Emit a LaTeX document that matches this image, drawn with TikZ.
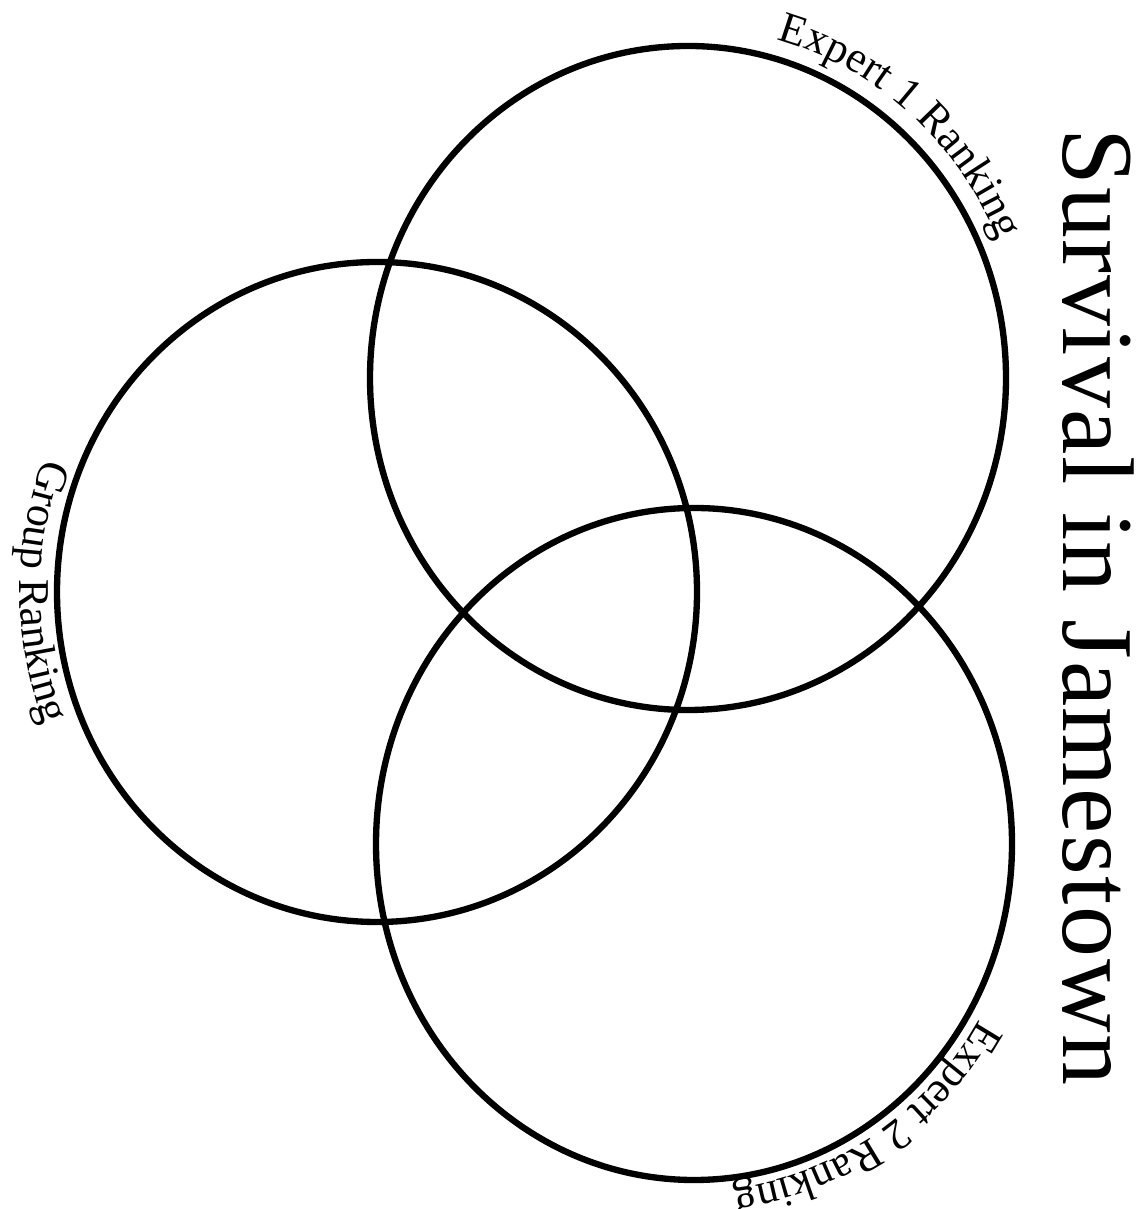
\documentclass[tikz,border=0pt]{standalone}
\usepackage{fontspec}
\setmainfont{Liberation Serif}
\newfontfamily\titlefamily[LetterSpace=1.5]{Liberation Serif}
\usetikzlibrary{decorations.text}

\newcommand{\rankfont}{\fontsize{12.5}{15}\selectfont}
\newcommand{\titlefont}{\titlefamily\fontsize{29}{34}\selectfont}

\tikzset{
  venn/.style={line width=1.8pt},
  ranklabel/.style={decorate, decoration={text along path, text align=center, text={|\rankfont|#1}}},
}

\begin{document}
\begin{tikzpicture}
  \useasboundingbox (0,0) rectangle (11.38,12.09);

  % circle centres
  \coordinate (expone) at (6.88,8.31);
  \coordinate (group) at (3.77,6.17);
  \coordinate (exptwo) at (6.94,3.65);

  % the three rings
  \draw[venn] (expone) ellipse (3.18cm and 3.32cm);
  \draw[venn] (group) ellipse (3.20cm and 3.30cm);
  \draw[venn] (exptwo) ellipse (3.18cm and 3.36cm);

  % labels round the rings
  \path[ranklabel={Expert 1 Ranking}] (expone) ++(84:3.37cm and 3.51cm)
    arc[start angle=84, end angle=14, x radius=3.37cm, y radius=3.51cm];
  \path[ranklabel={Group Ranking}] (group) ++(140:3.57cm and 3.67cm)
    arc[start angle=140, end angle=220, x radius=3.57cm, y radius=3.67cm];
  \path[ranklabel={Expert 2 Ranking}] (exptwo) ++(-19:3.30cm and 3.47cm)
    arc[start angle=-19, end angle=-95, x radius=3.30cm, y radius=3.47cm];

  % title
  \node[rotate=-90, anchor=base, font=\titlefont] (title) at (10.63,6.02) {Survival in Jamestown};
\end{tikzpicture}
\end{document}
